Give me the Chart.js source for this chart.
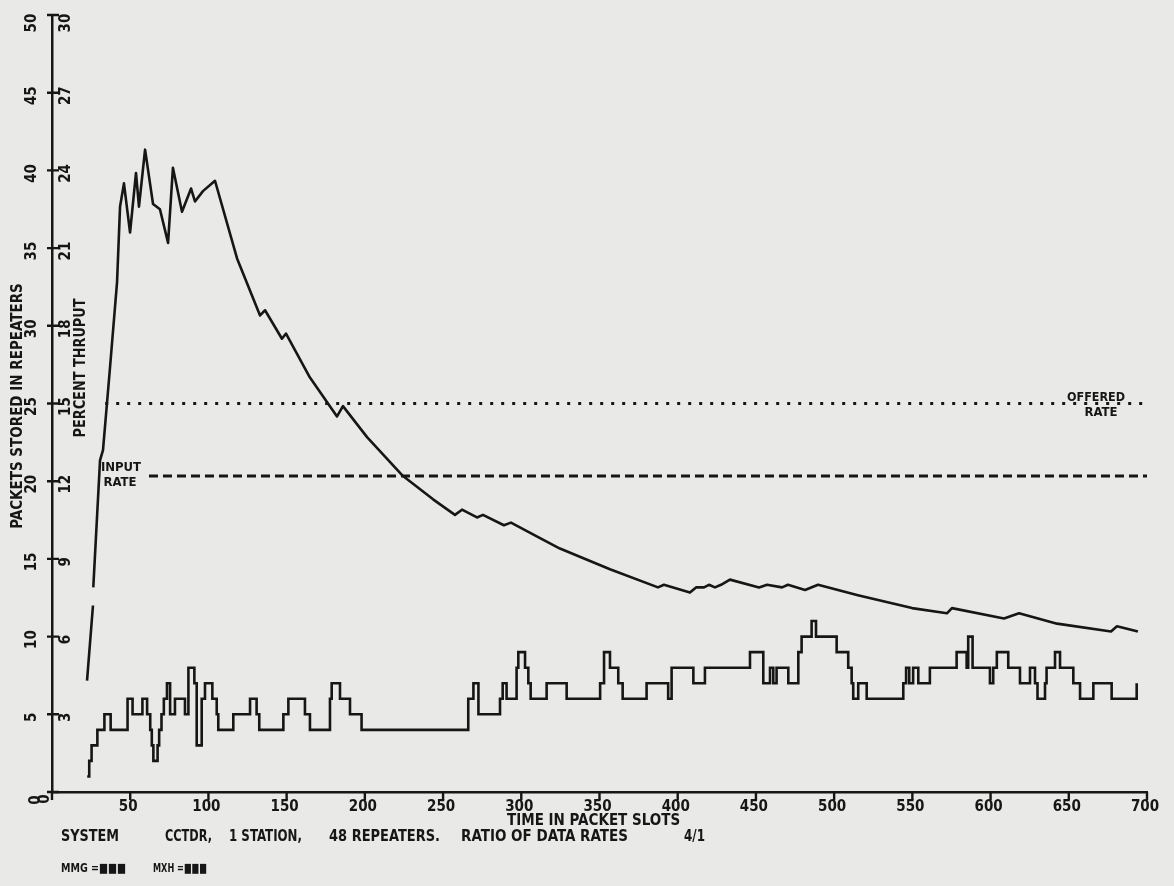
<!DOCTYPE html>
<html>
<head>
<title>Packets stored in repeaters</title>
<script src="https://cdn.jsdelivr.net/npm/chart.js@4/dist/chart.umd.min.js"></script>
<style>
  body { margin: 0; background: #e9e9e7; }
  #wrap { width: 1174px; height: 886px; }
</style>
</head>
<body>
<div id="wrap"><canvas id="plot" width="1174" height="886"></canvas></div>
<script>
// packets stored in repeaters (step trace): slot where the count changes, new count
const stepSlots = [22.5, 23.8, 25.3, 29.0, 33.5, 37.5, 48.3, 51.5, 57.8, 60.8,
  62.8, 63.8, 64.8, 67.5, 68.5, 70.0, 71.5, 73.5, 75.5, 78.6,
  85.0, 87.2, 91.0, 92.5, 95.7, 97.8, 102.5, 105.3, 106.3, 115.9,
  126.6, 130.8, 132.5, 147.9, 151.1, 161.7, 164.9, 177.7, 178.8, 184.1,
  190.5, 197.9, 266.1, 269.4, 272.6, 286.4, 288.1, 290.6, 297.0, 298.1,
  302.4, 304.5, 306.0, 316.2, 329.0, 350.4, 352.9, 356.7, 362.0, 364.8,
  380.1, 393.9, 396.1, 410.0, 417.4, 446.2, 454.7, 459.0, 461.1, 463.2,
  470.7, 477.1, 479.2, 485.6, 488.4, 501.6, 509.0, 511.2, 512.2, 515.4,
  520.8, 544.2, 546.0, 548.0, 550.5, 553.8, 561.2, 578.3, 584.7, 585.7,
  588.5, 599.6, 601.7, 604.0, 611.3, 618.8, 625.2, 628.4, 630.0, 634.8,
  635.8, 641.2, 644.4, 652.9, 657.2, 665.7, 677.4, 693.4];
const stepPackets = [1, 2, 3, 4, 5, 4, 6, 5, 6, 5,
  4, 3, 2, 3, 4, 5, 6, 7, 5, 6,
  5, 8, 7, 3, 6, 7, 6, 5, 4, 5,
  6, 5, 4, 5, 6, 5, 4, 6, 7, 6,
  5, 4, 6, 7, 5, 6, 7, 6, 8, 9,
  8, 7, 6, 7, 6, 7, 9, 8, 7, 6,
  7, 6, 8, 7, 8, 9, 7, 8, 7, 8,
  7, 9, 10, 11, 10, 9, 8, 7, 6, 7,
  6, 7, 8, 7, 8, 7, 8, 9, 8, 10,
  8, 7, 8, 9, 8, 7, 8, 7, 6, 7,
  8, 9, 8, 7, 6, 7, 6, 7];

// percent thruput (smooth trace), null = pen lift
const thruSlots = [22.4, 26.2, 26.3, 26.4, 30.7, 32.6, 37.1, 41.6, 43.5, 46.0,
  49.9, 53.7, 55.6, 59.5, 64.6, 69.0, 74.2, 77.3, 83.1, 88.9,
  91.4, 96.5, 104.2, 118.3, 133.0, 136.2, 147.0, 149.6, 164.9, 182.2,
  186.0, 201.4, 224.4, 243.6, 257.6, 262.1, 271.7, 275.5, 288.9, 293.4,
  312.0, 324.7, 356.7, 387.4, 391.2, 407.8, 411.7, 416.8, 420.0, 423.8,
  427.7, 433.4, 452.0, 457.1, 466.7, 470.5, 481.4, 489.7, 515.2, 549.8,
  572.1, 575.3, 608.6, 618.2, 642.5, 677.0, 680.8, 694.2];
const thruPercent = [4.3, 7.2, null, 7.9, 12.8, 13.2, 16.4, 19.7, 22.6, 23.5,
  21.6, 23.9, 22.6, 24.8, 22.7, 22.5, 21.2, 24.1, 22.4, 23.3,
  22.8, 23.2, 23.6, 20.6, 18.4, 18.6, 17.5, 17.7, 16.0, 14.5,
  14.9, 13.7, 12.2, 11.3, 10.7, 10.9, 10.6, 10.7, 10.3, 10.4,
  9.8, 9.4, 8.6, 7.9, 8.0, 7.7, 7.9, 7.9, 8.0, 7.9,
  8.0, 8.2, 7.9, 8.0, 7.9, 8.0, 7.8, 8.0, 7.6, 7.1,
  6.9, 7.1, 6.7, 6.9, 6.5, 6.2, 6.4, 6.2];

// reference levels (percent) and the slot where each line starts
const offeredRate = 15;
const offeredFrom = 34;
const inputRate = 12.2;
const inputFrom = 62;

const xTicks = [0, 50, 100, 150, 200, 250, 300, 350, 400, 450, 500, 550, 600, 650, 700];
const leftTicks = [0, 5, 10, 15, 20, 25, 30, 35, 40, 45, 50];
const rightTicks = [0, 3, 6, 9, 12, 15, 18, 21, 24, 27, 30];

const ink = '#161616';
const plotFont = '"DejaVu Sans Condensed", "DejaVu Sans", sans-serif';

function upText(ctx, t, cx, cy, w) {
  ctx.save();
  ctx.translate(cx, cy);
  ctx.rotate(-Math.PI / 2);
  ctx.textAlign = 'center';
  ctx.textBaseline = 'middle';
  if (w) ctx.fillText(t, 0, 0, w); else ctx.fillText(t, 0, 0);
  ctx.restore();
}

function putText(ctx, t, left, cy, w) {
  ctx.textAlign = 'left';
  ctx.textBaseline = 'middle';
  ctx.fillText(t, left, cy, w);
}

const inkPlugin = {
  id: 'inkPlugin',
  afterDraw(chart) {
    const ctx = chart.ctx;
    const x = chart.scales.x, y = chart.scales.y, y2 = chart.scales.y2;
    const base = y.getPixelForValue(0);
    ctx.save();
    ctx.strokeStyle = ink;
    ctx.fillStyle = ink;
    ctx.lineWidth = 2.4;

    // tick marks
    ctx.beginPath();
    xTicks.forEach(v => {
      const px = x.getPixelForValue(v);
      ctx.moveTo(px, base); ctx.lineTo(px, base + 8);
    });
    leftTicks.forEach(v => {
      const py = y.getPixelForValue(v);
      ctx.moveTo(x.left - 5, py); ctx.lineTo(x.left + 7, py);
    });
    ctx.stroke();

    // tick labels
    ctx.font = 'bold 15px ' + plotFont;
    ctx.textAlign = 'center';
    ctx.textBaseline = 'middle';
    xTicks.forEach(v => {
      if (v === 0) return;
      ctx.fillText(String(v), x.getPixelForValue(v) - 2, 807);
    });
    leftTicks.forEach(v => {
      const py = y.getPixelForValue(v);
      if (v === 0) upText(ctx, '0', 36, py + 8);
      else if (v === 50) upText(ctx, '50', 32, py + 8);
      else upText(ctx, String(v), 32, py + 3);
    });
    rightTicks.forEach(v => {
      const py = y2.getPixelForValue(v);
      if (v === 0) upText(ctx, '0', 45, py + 7);
      else if (v === 30) upText(ctx, '30', 66, py + 8);
      else upText(ctx, String(v), 66, py + 3);
    });

    // axis titles
    upText(ctx, 'PACKETS STORED IN REPEATERS', 18, 406, 252);
    upText(ctx, 'PERCENT THRUPUT', 81, 368, 139);
    putText(ctx, 'TIME IN PACKET SLOTS', 507, 821, 184);

    // caption
    putText(ctx, 'SYSTEM', 61, 837, 58);
    putText(ctx, 'CCTDR,', 165, 837, 47);
    putText(ctx, '1 STATION,', 229, 837, 73);
    putText(ctx, '48 REPEATERS.', 329, 837, 111);
    putText(ctx, 'RATIO OF DATA RATES', 461, 837, 210);
    putText(ctx, '4/1', 684, 837, 21);
    ctx.font = 'bold 13px ' + plotFont;
    putText(ctx, 'MMG =■■■', 61, 869, 65);
    putText(ctx, 'MXH =■■■', 153, 869, 54);

    // line labels
    ctx.textAlign = 'center';
    ctx.fillText('INPUT', 121, 468, 46);
    ctx.fillText('RATE', 120, 483, 40);
    ctx.fillText('OFFERED', 1096, 398, 58);
    ctx.fillText('RATE', 1101, 413, 38);
    ctx.restore();
  }
};

const stepData = stepSlots.map((s, i) => ({ x: s, y: stepPackets[i] }));
const thruData = thruSlots.map((s, i) => ({ x: s, y: thruPercent[i] }));

new Chart(document.getElementById('plot'), {
  type: 'line',
  data: {
    datasets: [
      {
        label: 'Percent thruput',
        data: thruData,
        yAxisID: 'y2',
        borderColor: ink,
        borderWidth: 2.6,
        pointRadius: 0,
        tension: 0,
        spanGaps: false,
        borderJoinStyle: 'round'
      },
      {
        label: 'Packets stored',
        data: stepData,
        yAxisID: 'y',
        stepped: true,
        borderColor: ink,
        borderWidth: 2.6,
        pointRadius: 0
      },
      {
        label: 'Offered rate',
        data: [{ x: offeredFrom, y: offeredRate }, { x: 700, y: offeredRate }],
        yAxisID: 'y2',
        borderColor: ink,
        borderWidth: 3,
        borderDash: [3, 8],
        pointRadius: 0
      },
      {
        label: 'Input rate',
        data: [{ x: inputFrom, y: inputRate }, { x: 700, y: inputRate }],
        yAxisID: 'y2',
        borderColor: ink,
        borderWidth: 3,
        borderDash: [9, 5],
        pointRadius: 0
      }
    ]
  },
  options: {
    responsive: false,
    animation: false,
    layout: { padding: { top: 15, right: 27, left: 0, bottom: 0 } },
    plugins: { legend: { display: false }, tooltip: { enabled: false } },
    scales: {
      x: {
        type: 'linear',
        min: 0,
        max: 700,
        grid: { display: false },
        border: { display: true, color: ink, width: 2.5 },
        ticks: { display: false },
        afterFit: s => { s.height = 94; }
      },
      y: {
        min: 0,
        max: 50,
        position: 'left',
        grid: { display: false },
        border: { display: true, color: ink, width: 2.5 },
        ticks: { display: false },
        afterFit: s => { s.width = 52; }
      },
      y2: {
        min: 0,
        max: 30,
        display: false
      }
    }
  },
  plugins: [inkPlugin]
});
</script>
</body>
</html>
